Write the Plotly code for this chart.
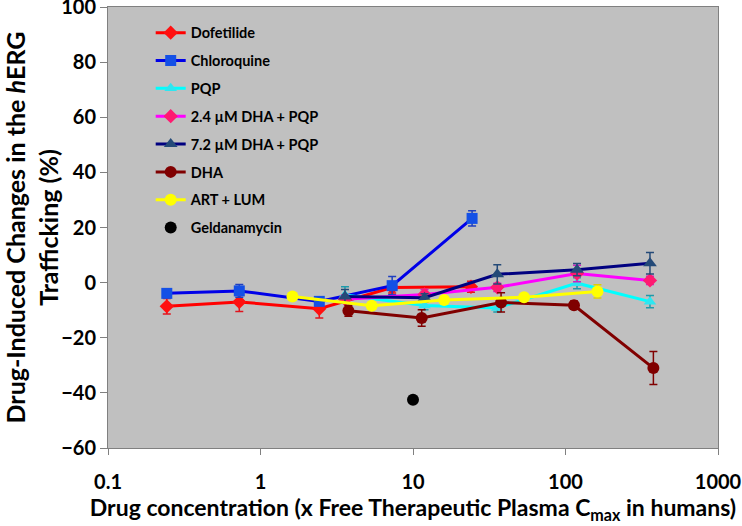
import plotly.graph_objects as go

# ---- data ----
dofetilide_x = [0.243, 0.726, 2.43, 7.3, 24.0]
dofetilide_y = [-8.6, -7.0, -9.5, -1.8, -1.5]
dofetilide_e = [2.8, 3.5, 3.3, 2.0, 2.0]

chloroquine_x = [0.243, 0.726, 2.43, 7.3, 24.4]
chloroquine_y = [-3.9, -3.0, -6.8, -1.1, 23.3]
chloroquine_e = [1.2, 2.3, 1.2, 3.3, 2.8]

pqp_x = [3.58, 11.9, 35.7, 119.0, 358.0]
pqp_y = [-4.5, -8.3, -9.2, -0.2, -6.9]
pqp_e = [3.0, 1.5, 1.5, 2.0, 2.2]

dha24_x = [3.58, 11.9, 35.7, 119.0, 358.0]
dha24_y = [-6.0, -4.3, -1.7, 3.3, 0.8]
dha24_e = [1.5, 1.8, 1.5, 3.0, 1.5]

dha72_x = [3.58, 11.9, 35.7, 119.0, 358.0]
dha72_y = [-5.0, -5.5, 3.0, 4.7, 7.0]
dha72_e = [2.5, 1.5, 3.5, 2.2, 3.9]

dha_x = [3.77, 11.4, 37.8, 113.7, 377.0]
dha_y = [-10.2, -12.8, -7.2, -8.2, -31.0]
dha_e = [2.0, 3.0, 3.5, 1.5, 6.0]

artlum_x = [1.62, 5.36, 16.0, 53.5, 162.0]
artlum_y = [-5.0, -8.4, -6.3, -5.3, -3.2]
artlum_e = [1.2, 1.0, 1.2, 1.0, 2.4]

geld_x = [10.0]
geld_y = [-42.5]

x_tickvals = [0.1, 1, 10, 100, 1000]
x_ticktext = ["0.1", "1", "10", "100", "1000"]
y_tickvals = [-60, -40, -20, 0, 20, 40, 60, 80, 100]

FONT = "Lato"

series = [
    ("Dofetilide", dofetilide_x, dofetilide_y, dofetilide_e, "#FF0000", "#FF1010", "diamond", 11, "#E0141E"),
    ("Chloroquine", chloroquine_x, chloroquine_y, chloroquine_e, "#0000E8", "#1450E6", "square", 11, "#1F3FBF"),
    ("PQP", pqp_x, pqp_y, pqp_e, "#00FFFF", "#2EE6F0", "triangle-up", 11, "#1E9AAA"),
    ("2.4 \u00b5M DHA + PQP", dha24_x, dha24_y, dha24_e, "#FF00FF", "#FF1A70", "diamond", 11, "#D020C0"),
    ("7.2 \u00b5M DHA + PQP", dha72_x, dha72_y, dha72_e, "#000080", "#244A78", "triangle-up", 12, "#244A78"),
    ("DHA", dha_x, dha_y, dha_e, "#800000", "#800000", "circle", 12, "#800000"),
    ("ART + LUM", artlum_x, artlum_y, artlum_e, "#FFFF00", "#FFFF00", "circle", 12, "#E0D000"),
]

fig = go.Figure()
for i, (name, xs, ys, es, lc, mc, sym, ms, ec) in enumerate(series):
    fig.add_trace(go.Scatter(
        x=xs, y=ys, name=name, mode="lines+markers",
        legendgroup="g%d" % i,
        line=dict(color=lc, width=3),
        marker=dict(symbol=sym, size=ms, color=mc, line=dict(width=0)),
        error_y=dict(type="data", array=es, visible=True, color=ec, thickness=1.5, width=4),
    ))

fig.add_trace(go.Scatter(
    x=geld_x, y=geld_y, name="Geldanamycin", mode="markers",
    legendgroup="g8",
    marker=dict(symbol="circle", size=12, color="#000000"),
))

fig.update_layout(
    width=742, height=526,
    margin=dict(l=108, r=24, t=7, b=78),
    paper_bgcolor="white",
    plot_bgcolor="#C0C0C0",
    font=dict(family=FONT, color="black"),
    showlegend=True,
    legend=dict(
        x=0.07, y=0.978, xanchor="left", yanchor="top",
        bgcolor="rgba(0,0,0,0)",
        font=dict(family=FONT, size=14.5, weight="bold", color="black"),
        tracegroupgap=6,
    ),
)

fig.update_xaxes(
    type="log", range=[-1, 3],
    tickvals=x_tickvals, ticktext=x_ticktext,
    ticks="outside", ticklen=6, tickcolor="#808080",
    showgrid=False, zeroline=False, automargin=False,
    ticklabeloverflow="allow", ticklabelstandoff=10,
    showline=True, linecolor="#808080", linewidth=1, mirror=True,
    tickfont=dict(family=FONT, size=20, weight="bold"),
    title=dict(text="Drug concentration (x Free Therapeutic Plasma C<sub>max</sub> in humans)",
               font=dict(family=FONT, size=23, weight="bold"), standoff=6),
)
fig.update_yaxes(
    range=[-60, 100], tickvals=y_tickvals,
    ticks="outside", ticklen=7, tickcolor="#808080",
    showgrid=False, zeroline=False, automargin=False,
    ticklabeloverflow="allow",
    showline=True, linecolor="#808080", linewidth=1, mirror=True,
    tickfont=dict(family=FONT, size=20, weight="bold"),
    title=dict(text="Drug-Induced Changes in the <i>h</i>ERG<br>Trafficking (%)",
               font=dict(family=FONT, size=25, weight="bold"), standoff=5),
)

fig.write_html("out.html", config={"displayModeBar": False},
               post_script="document.body.style.margin='0px';")
